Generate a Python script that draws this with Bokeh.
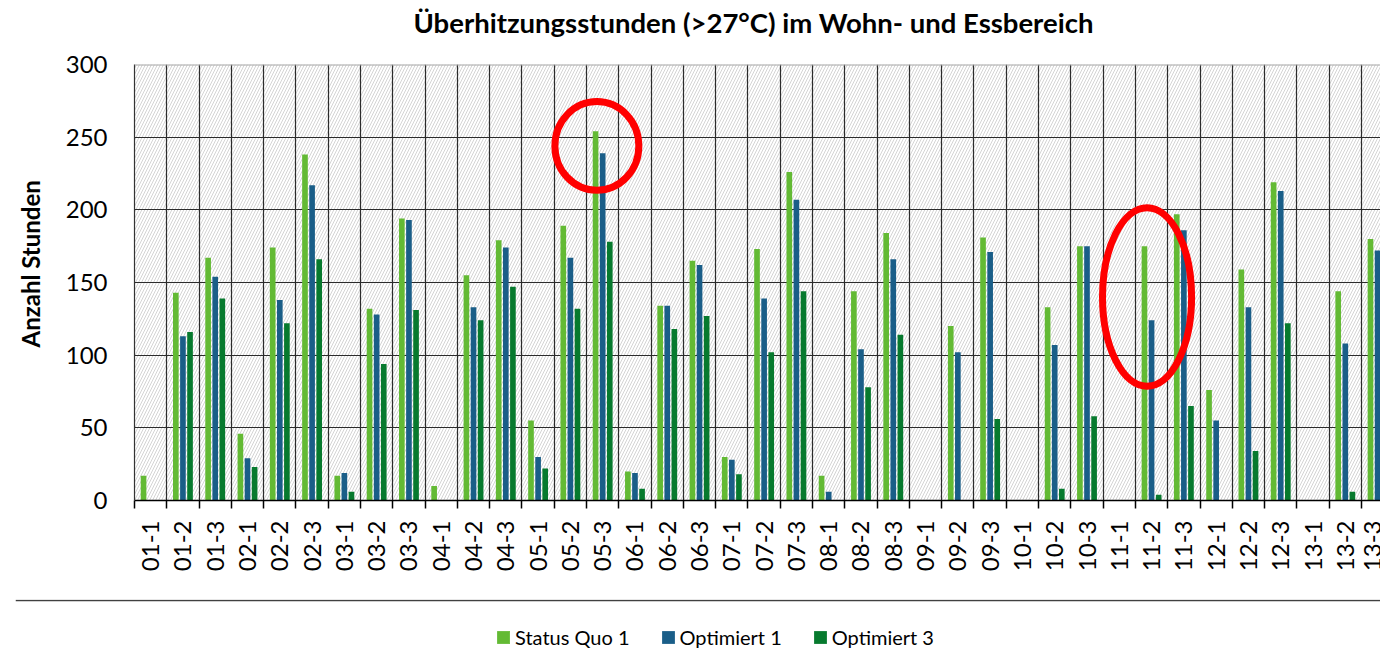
import math
from bokeh.plotting import figure
from bokeh.models import (Range1d, FixedTicker, BoxAnnotation, Span, Legend,
                          LegendItem, ColumnDataSource, Title)
from bokeh.core.properties import value
from bokeh.layouts import column
from bokeh.embed import file_html
from bokeh.resources import INLINE
from bokeh.transform import dodge

categories = ["01-1", "01-2", "01-3", "02-1", "02-2", "02-3", "03-1", "03-2", "03-3",
              "04-1", "04-2", "04-3", "05-1", "05-2", "05-3", "06-1", "06-2", "06-3",
              "07-1", "07-2", "07-3", "08-1", "08-2", "08-3", "09-1", "09-2", "09-3",
              "10-1", "10-2", "10-3", "11-1", "11-2", "11-3", "12-1", "12-2", "12-3",
              "13-1", "13-2", "13-3"]
status_quo_1 = [17, 143, 167, 46, 174, 238, 17, 132, 194, 10, 155, 179, 55, 189, 254,
                20, 134, 165, 30, 173, 226, 17, 144, 184, 0, 120, 181, 0, 133, 175,
                0, 175, 197, 76, 159, 219, 0, 144, 180]
optimiert_1 = [0, 113, 154, 29, 138, 217, 19, 128, 193, 0, 133, 174, 30, 167, 239,
               19, 134, 162, 28, 139, 207, 6, 104, 166, 0, 102, 171, 0, 107, 175,
               0, 124, 186, 55, 133, 213, 0, 108, 172]
optimiert_3 = [0, 116, 139, 23, 122, 166, 6, 94, 131, 0, 124, 147, 22, 132, 178,
               8, 118, 127, 18, 102, 144, 0, 78, 114, 0, 0, 56, 0, 8, 58,
               0, 4, 65, 0, 34, 122, 0, 6, float("nan")]
series_names = ["Status Quo 1", "Optimiert 1", "Optimiert 3"]
series_colors = ["#63BA34", "#1A5E88", "#077A2E"]
y_ticks = [0, 50, 100, 150, 200, 250, 300]
title_text = "Überhitzungsstunden (>27°C) im Wohn- und Essbereich"
y_label = "Anzahl Stunden"
# highlighted categories: (category, shift, centre value, width in categories, height in hours)
highlights = [("05-3", -0.18, 244, 2.6, 61), ("11-2", -0.14, 140, 2.76, 123)]

FONT = "Lato"
idx = list(range(len(categories)))
src = ColumnDataSource(dict(x=idx, s1=status_quo_1, s2=optimiert_1, s3=optimiert_3))

# title strip (pixel-sized ranges so the heading sits where it should)
t = figure(width=1380, height=44, output_backend="svg", toolbar_location=None,
           x_range=Range1d(0, 1380), y_range=Range1d(0, 44),
           min_border_left=0, min_border_right=0, min_border_top=0, min_border_bottom=0)
t.frame_align = False
t.outline_line_color = None
t.xaxis.visible = False
t.yaxis.visible = False
t.grid.visible = False
t.text(x=[753], y=[22], text=[title_text], text_align="center", text_baseline="middle",
       text_font=value(FONT), text_font_style="bold", text_font_size=value("27.5px"),
       text_color="black")

p = figure(width=1380, height=555, output_backend="svg", toolbar_location=None,
           x_range=Range1d(-0.5, 38.09), y_range=Range1d(0, 300),
           min_border_left=134, min_border_right=0, min_border_top=20,
           min_border_bottom=99)
p.outline_line_color = None
p.background_fill_color = "white"
p.border_fill_color = "white"

bg = BoxAnnotation(fill_color="white", fill_alpha=1.0, line_color=None,
                   hatch_pattern="/", hatch_color="#d4d4d4", hatch_scale=6,
                   hatch_weight=1.0, level="image")
p.add_layout(bg)

offsets = [-0.22, 0.0, 0.22]
for col, off, colr in zip(["s1", "s2", "s3"], offsets, series_colors):
    p.vbar(x=dodge("x", off), top=col, width=0.175, source=src,
           fill_color=colr, line_color=None)

for cat, shift, yv, w, h in highlights:
    cx = categories.index(cat) + shift
    p.ellipse(x=[cx], y=[yv], width=[w], height=[h], fill_color=None,
              line_color="#FF0000", line_width=7)

boundaries = [i - 0.5 for i in range(len(categories) + 1)]
p.xaxis.ticker = FixedTicker(ticks=idx, minor_ticks=boundaries)
p.xaxis.major_label_overrides = {i: c for i, c in zip(idx, categories)}
p.xaxis.major_label_orientation = math.pi / 2
p.xaxis.major_tick_line_color = None
p.xaxis.major_tick_out = 0
p.xaxis.major_tick_in = 0
p.xaxis.minor_tick_out = 8
p.xaxis.minor_tick_in = 0
p.xaxis.minor_tick_line_color = "black"
p.xaxis.minor_tick_line_width = 1.5
p.xaxis.axis_line_color = "black"
p.xaxis.axis_line_width = 1.5
p.xaxis.major_label_standoff = 12
p.xaxis.major_label_text_font = FONT
p.xaxis.major_label_text_font_size = "24px"
p.xaxis.major_label_text_color = "black"

p.yaxis.ticker = FixedTicker(ticks=y_ticks)
p.yaxis.major_tick_line_color = None
p.yaxis.minor_tick_line_color = None
p.yaxis.major_tick_out = 0
p.yaxis.major_tick_in = 0
p.yaxis.axis_line_color = "#333333"
p.yaxis.axis_line_width = 1.2
p.yaxis.major_label_standoff = 27
p.yaxis.major_label_text_font = FONT
p.yaxis.major_label_text_font_size = "24px"
p.yaxis.major_label_text_color = "black"

ytitle = Title(text=y_label, align="left", offset=153, standoff=31, vertical_align="top",
               text_font=FONT, text_font_style="bold", text_font_size="24px",
               text_color="black", text_line_height=1.0)
p.add_layout(ytitle, "left")

p.xgrid.ticker = FixedTicker(ticks=boundaries)
p.xgrid.grid_line_color = "#2b2b2b"
p.xgrid.grid_line_width = 1.2
p.xgrid.grid_line_alpha = 1.0
p.ygrid.ticker = FixedTicker(ticks=y_ticks[:-1])
p.ygrid.grid_line_color = "#2b2b2b"
p.ygrid.grid_line_width = 1.2
p.ygrid.grid_line_alpha = 1.0
p.add_layout(Span(location=300, dimension="width", line_color="#a6a6a6", line_width=2))

# legend strip with separator line
q = figure(width=1380, height=52, output_backend="svg", toolbar_location=None,
           x_range=Range1d(0, 1), y_range=Range1d(0, 52),
           min_border_left=15, min_border_right=0, min_border_top=0, min_border_bottom=0)
q.frame_align = False
q.outline_line_color = None
q.xaxis.visible = False
q.yaxis.visible = False
q.grid.visible = False
q.add_layout(Span(location=51, dimension="width", line_color="#404040", line_width=1.5))
items = []
for name, colr in zip(series_names, series_colors):
    # zero-height bar: only supplies the colour swatch for the legend
    r = q.vbar(x=[0], top=[0], bottom=[0], width=0, fill_color=colr, line_color=None)
    items.append(LegendItem(label=name, renderers=[r]))
leg = Legend(items=items, orientation="horizontal", location=(480, 2),
             border_line_color=None, background_fill_alpha=0, padding=0, margin=0,
             glyph_width=16, glyph_height=16, label_standoff=4, spacing=30,
             label_text_font=FONT, label_text_font_size="20px", label_height=20,
             label_text_color="black")
q.add_layout(leg)

layout = column(t, p, q, spacing=0)
open("out.html", "w").write(file_html(layout, INLINE))
